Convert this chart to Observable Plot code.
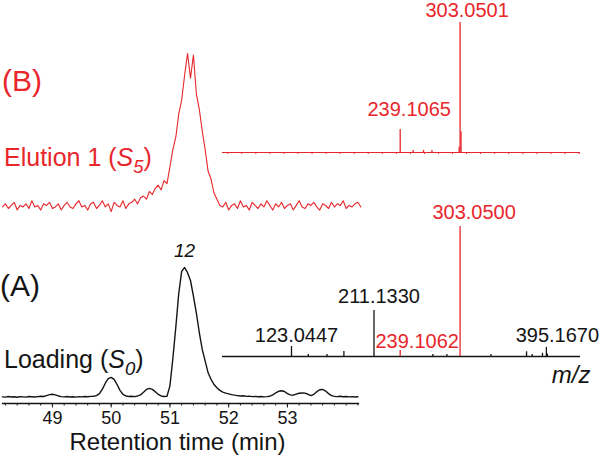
<!DOCTYPE html>
<html><head><meta charset="utf-8">
<script src="https://cdn.jsdelivr.net/npm/d3@7"></script>
<script src="https://cdn.jsdelivr.net/npm/@observablehq/plot@0.6"></script>
<style>
html,body{margin:0;padding:0;background:#fff;}
#chart{position:relative;width:601px;height:456px;overflow:hidden;background:#fff;}
#chart svg{position:absolute;left:0;top:0;}
</style></head><body><div id="chart"></div>
<script>
const RED = "#e8262b", BLACK = "#141414";
const FONT = "'Liberation Sans', Arial, Helvetica, sans-serif";

// ---- Chromatograms (retention time, min) ----
const timeDomain = [48.15, 54.21];
const timeTicks = [49, 50, 51, 52, 53];
const timeMinorTicks = [48.2,48.4,48.6,48.8,49,49.2,49.4,49.6,49.8,50,50.2,50.4,50.6,50.8,51,51.2,51.4,51.6,51.8,52,52.2,52.4,52.6,52.8,53,53.2,53.4,53.6,53.8,54,54.2];
const timeLabel = "Retention time (min)";

// (A) Loading (S0): sampled every 0.05 min from 48.15 min
const loadingStart = 48.15, loadingStep = 0.05;
const loadingIntensity = [
  0.5,0.3,0.8,0.4,0.6,0.2,0.7,0.5,0.3,0.8,
  0.6,0.4,0.7,1.0,0.8,1.5,2.2,2.5,2.0,1.2,
  0.7,0.5,0.8,0.4,0.6,0.3,0.7,0.5,0.8,0.6,
  0.9,1.0,1.5,3,6.5,11,14.5,15.5,14,10,
  5.5,2.5,1.2,0.8,1.0,0.7,1.2,2.0,4,6.2,
  7,6.3,4.5,2.5,1.2,0.8,1.0,9,30,54,
  80,97,100,96,90,78,65,50,37,28,
  19,14,10,7.5,5.5,4.2,3.4,2.8,2.2,1.8,
  1.5,1.2,1.4,0.9,1.1,0.7,0.9,0.6,0.8,0.5,
  0.7,1.0,2.0,3.5,4.8,5.2,4.6,3.0,2.0,1.8,
  2.6,3.3,3.5,3.4,2.5,1.5,2.5,4.5,6.0,6.2,
  5.0,3.0,1.5,0.9,0.7,1.0,0.6,0.8,0.5,0.7,
  0.4,0.6
];
const loadingPeakLabel = "12";

// (B) Elution 1 (S5): sampled every 0.05 min from 48.15 min
const elutionStart = 48.15, elutionStep = 0.05;
const elutionIntensity = [
  1,3,0,2,4,-1,2,1,3,0, 5,1,2,-1,3,2,4,0,1,3, -1,2,4,1,0,3,5,1,2,-1, 3,4,0,2,5,1,3,-2,4,2, 1,5,0,3,
  4,6,3,7,8,6,11,9,13,15,12,18,16,27,38,46,61,70,86,100,84,99,74,64,50,38,24,19,10,6,2,
  1,4,-1,2,3,0,5,1,2,-1, 4,2,0,3,1,5,2,-1,3,1, 4,0,2,3,-1,2,5,1,0,3, 2,4,1,-1,3,2,0,4,1,3, 2,5,0,2,1,3,4,1
];

// ---- Mass spectra (m/z) ----
const mzDomain = [49.4, 431.6];
const mzMinorTicks = [55,70,85,100,115,130,145,160,175,190,205,220,235,250,265,280,295,310,325,340,355,370,385,400,415,430];
const mzLabel = "m/z";

// (A) spectrum of peak 12 in Loading
const msAmz  = [123.0447, 141, 161, 179, 211.1330, 239.1062, 274, 289, 303.0500, 336, 374, 380, 391, 395.1670, 396.2];
const msAint = [7.7, 1.5, 1.5, 3.8, 35.4, 4.6, 1.5, 1.5, 100, 1.5, 3.6, 1.5, 2.5, 7, 2];
const msAred = [false,false,false,false,false,true,false,false,true,false,false,false,false,false,false];
const msAlabels = ["123.0447", "211.1330", "239.1062", "303.0500", "395.1670"];
const msAlabelMz = [123.0447, 211.1330, 239.1062, 303.0500, 395.1670];

// (B) spectrum in Elution 1
const msBmz  = [239.1065, 253, 264, 273, 302.05, 303.0501, 304.05];
const msBint = [17.7, 1.5, 1.5, 1.5, 4, 100, 16];
const msBlabels = ["239.1065", "303.0501"];
const msBlabelMz = [239.1065, 303.0501];

// ---- label styling (offsets in px) ----
const labelStyle = {
  "123.0447": {dx: 5, dy: -4, fill: BLACK},
  "211.1330": {dx: 5, dy: -7, fill: BLACK},
  "239.1062": {dx: 17, dy: -3, fill: RED},
  "303.0500": {dx: 14, dy: -8, fill: RED},
  "395.1670": {dx: 11, dy: -5, fill: BLACK},
  "239.1065": {dx: 9, dy: -13, fill: RED},
  "303.0501": {dx: 7, dy: -6, fill: RED}
};

const W = 601, H = 456;
const baseStyle = {background: "transparent", overflow: "visible", fontFamily: FONT, color: BLACK, fontSize: "18px"};
const container = document.getElementById("chart");

function richText(svg, x, y, parts, size, fill) {
  const t = d3.select(svg).append("text")
    .attr("x", x).attr("y", y).attr("fill", fill)
    .attr("text-anchor", "start")
    .attr("font-size", size).attr("font-family", FONT);
  for (const p of parts) {
    const ts = t.append("tspan").text(p.text);
    if (p.italic) ts.attr("font-style", "italic");
    if (p.sub) ts.attr("font-size", size * 0.74).attr("dy", size * 0.26);
    if (p.unsub) ts.attr("dy", -size * 0.26);
  }
}

// Chromatogram A
const loading = loadingIntensity.map((v, i) => ({t: loadingStart + i * loadingStep, v}));
const loadingPeak = loading.reduce((a, b) => (b.v > a.v ? b : a));
const chromA = Plot.plot({
  width: W, height: H,
  marginLeft: 2, marginRight: 243, marginTop: 267, marginBottom: 53,
  x: {domain: timeDomain, label: null},
  y: {domain: [-4.6, 100], axis: null},
  style: baseStyle,
  marks: [
    Plot.frame({anchor: "bottom", stroke: BLACK, strokeWidth: 1.3}),
    Plot.axisX({ticks: timeMinorTicks, tickSize: 2.5, fill: "none", label: null, stroke: BLACK}),
    Plot.axisX({ticks: timeTicks, tickSize: 4.5, tickPadding: 3, tickFormat: d => String(d), label: null, stroke: BLACK, fill: BLACK, fontSize: 18}),
    Plot.line(loading, {x: "t", y: "v", stroke: BLACK, strokeWidth: 1.4}),
    Plot.text([loadingPeak], {x: "t", y: "v", text: () => loadingPeakLabel, dy: -11, lineAnchor: "bottom", fontStyle: "italic", fontSize: 19, fill: BLACK}),
    Plot.text([timeLabel], {frameAnchor: "bottom", text: d => d, dx: -3, dy: 46, lineAnchor: "bottom", fontSize: 24, fill: BLACK})
  ]
});
richText(chromA, 0, 296, [{text: "(A)"}], 30, BLACK);
richText(chromA, 4, 368, [{text: "Loading ("}, {text: "S", italic: true}, {text: "0", italic: true, sub: true}, {text: ")", unsub: true}], 25, BLACK);

// Chromatogram B
const elution = elutionIntensity.map((v, i) => ({t: elutionStart + i * elutionStep, v}));
const chromB = Plot.plot({
  width: W, height: H,
  marginLeft: 2, marginRight: 243, marginTop: 53, marginBottom: 248,
  x: {domain: timeDomain, axis: null},
  y: {domain: [0, 100], axis: null},
  style: baseStyle,
  marks: [
    Plot.line(elution, {x: "t", y: "v", stroke: RED, strokeWidth: 1.1})
  ]
});
richText(chromB, 2, 91, [{text: "(B)"}], 30, RED);
richText(chromB, 4, 166, [{text: "Elution 1 ("}, {text: "S", italic: true}, {text: "5", italic: true, sub: true}, {text: ")", unsub: true}], 25, RED);

function labelMarks(labels, labelMz, mzs, ints) {
  return labels.map((lab, i) => {
    const k = mzs.indexOf(labelMz[i]);
    const s = labelStyle[lab];
    return Plot.text([{mz: labelMz[i], int: ints[k], lab}], {
      x: "mz", y: "int", text: "lab", dx: s.dx, dy: s.dy, fill: s.fill,
      textAnchor: "middle", lineAnchor: "bottom", fontSize: 20
    });
  });
}

// Mass spectrum A
const msA = msAmz.map((mz, i) => ({mz, int: msAint[i], red: msAred[i]}));
const specA = Plot.plot({
  width: W, height: H,
  marginLeft: 222, marginRight: 21, marginTop: 226, marginBottom: 100,
  x: {domain: mzDomain, axis: null},
  y: {domain: [0, 100], axis: null},
  style: baseStyle,
  marks: [
    Plot.ruleY([0], {stroke: BLACK, strokeWidth: 1.3}),
    Plot.ruleX(msA, {x: "mz", y1: 0, y2: "int", stroke: d => (d.red ? RED : BLACK), strokeWidth: 1.3}),
    ...labelMarks(msAlabels, msAlabelMz, msAmz, msAint),
    Plot.text([mzLabel], {frameAnchor: "bottom-right", text: d => d, dx: 10, dy: 26, textAnchor: "end", lineAnchor: "bottom", fontStyle: "italic", fontSize: 24, fill: BLACK})
  ]
});

// Mass spectrum B
const msB = msBmz.map((mz, i) => ({mz, int: msBint[i]}));
const specB = Plot.plot({
  width: W, height: H,
  marginLeft: 222, marginRight: 21, marginTop: 22, marginBottom: 304,
  x: {domain: mzDomain, label: null},
  y: {domain: [0, 100], axis: null},
  style: {...baseStyle, color: RED},
  marks: [
    Plot.ruleY([0], {stroke: RED, strokeWidth: 1.2}),
    Plot.axisX({ticks: mzMinorTicks, tickSize: 2, fill: "none", label: null, stroke: RED}),
    Plot.ruleX(msB, {x: "mz", y1: 0, y2: "int", stroke: RED, strokeWidth: 1.3}),
    ...labelMarks(msBlabels, msBlabelMz, msBmz, msBint)
  ]
});

for (const svg of [chromB, specB, chromA, specA]) container.appendChild(svg);
</script>
</body></html>
